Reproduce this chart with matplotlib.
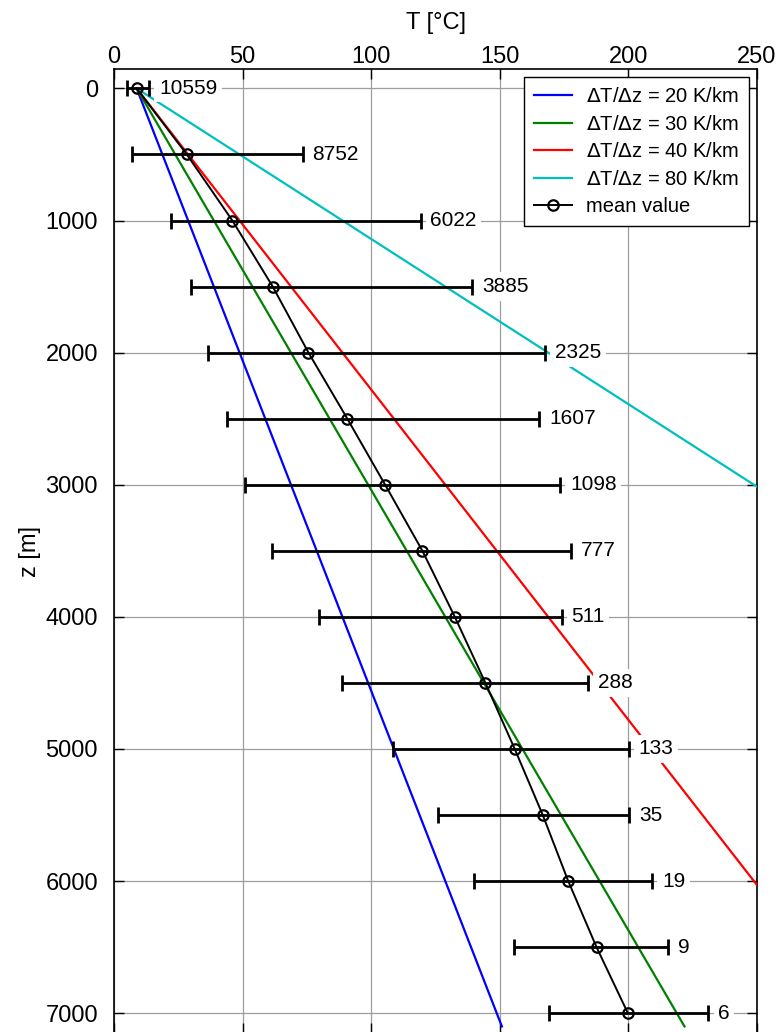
import numpy as np
import matplotlib
matplotlib.use("Agg")
import matplotlib.pyplot as plt

plt.rcParams['font.family'] = ['Liberation Sans', 'DejaVu Sans']

# depth classes and temperature statistics
depth = [0, 500, 1000, 1500, 2000, 2500, 3000, 3500, 4000, 4500, 5000, 5500, 6000, 6500, 7000]
t_mean = [8.8, 28.3, 46.0, 61.7, 75.6, 90.7, 105.4, 119.9, 132.5, 144.4, 155.8, 166.7, 176.6, 187.6, 199.8]
t_min = [4.9, 6.9, 22.0, 29.8, 36.5, 43.8, 51.1, 61.5, 79.7, 88.6, 108.6, 126.0, 140.0, 155.4, 169.3]
t_max = [13.7, 73.4, 119.2, 139.2, 167.7, 165.4, 173.5, 177.6, 174.1, 184.4, 200.2, 200.4, 209.3, 215.5, 231.1]
counts = [10559, 8752, 6022, 3885, 2325, 1607, 1098, 777, 511, 288, 133, 35, 19, 9, 6]

# reference geothermal gradients (K/km)
gradients = [20, 30, 40, 80]
grad_colors = ['#0000ff', '#008000', '#ff0000', '#00bfbf']
t_surface = 8.8
z_line = np.array([0.0, 7100.0])

zlim = (7150, -145)
xlim = (0, 250)

fig = plt.figure(figsize=(7.81, 10.32), dpi=100)
ax = fig.add_axes([0.146, -0.001, 0.8233, 0.9339])

for g, c in zip(gradients, grad_colors):
    ax.plot(t_surface + g * z_line / 1000.0, z_line, color=c, lw=1.6,
            label=r'$\Delta$T/$\Delta$z = %d K/km' % g, zorder=3)

t_mean_a = np.array(t_mean)
xerr = [t_mean_a - np.array(t_min), np.array(t_max) - t_mean_a]
ax.errorbar(t_mean, depth, xerr=xerr, fmt='none', ecolor='k', elinewidth=2.0,
            capsize=6, capthick=2.0, zorder=4)
ax.plot(t_mean, depth, '-o', color='k', lw=1.4, ms=7.5, mfc='none', mew=1.6,
        label='mean value', zorder=5)

for tx, z, n in zip(t_max, depth, counts):
    ax.annotate(str(n), xy=(tx, z), xytext=(7, 0), textcoords='offset points',
                ha='left', va='center', fontsize=15, zorder=6,
                bbox=dict(boxstyle='square,pad=0.22', fc='white', ec='none'))

ax.set_xlim(*xlim)
ax.set_ylim(*zlim)
ax.set_xticks([0, 50, 100, 150, 200, 250])
ax.set_yticks(range(0, 7001, 1000))
ax.grid(True, color='0.62', lw=0.9, zorder=0)
ax.set_axisbelow(True)

ax.xaxis.set_label_position('top')
ax.tick_params(axis='both', direction='in', length=7, width=1,
               top=True, right=True, bottom=True, left=True,
               labeltop=True, labelbottom=False, labelsize=17)
ax.tick_params(axis='x', pad=1)
ax.tick_params(axis='y', pad=11.5)
ax.set_xlabel('T [°C]', fontsize=17, labelpad=12)
ax.set_ylabel('z [m]', fontsize=17, labelpad=3)
for s in ax.spines.values():
    s.set_linewidth(1.2)

leg = ax.legend(loc='upper right', fontsize=14.5, frameon=True, fancybox=False,
                framealpha=1, edgecolor='k', handlelength=1.9, handletextpad=0.7,
                labelspacing=0.42, borderaxespad=0.4, borderpad=0.5)
leg.get_frame().set_linewidth(1.0)
leg.set_zorder(10)

fig.savefig('out.png', dpi=100)
